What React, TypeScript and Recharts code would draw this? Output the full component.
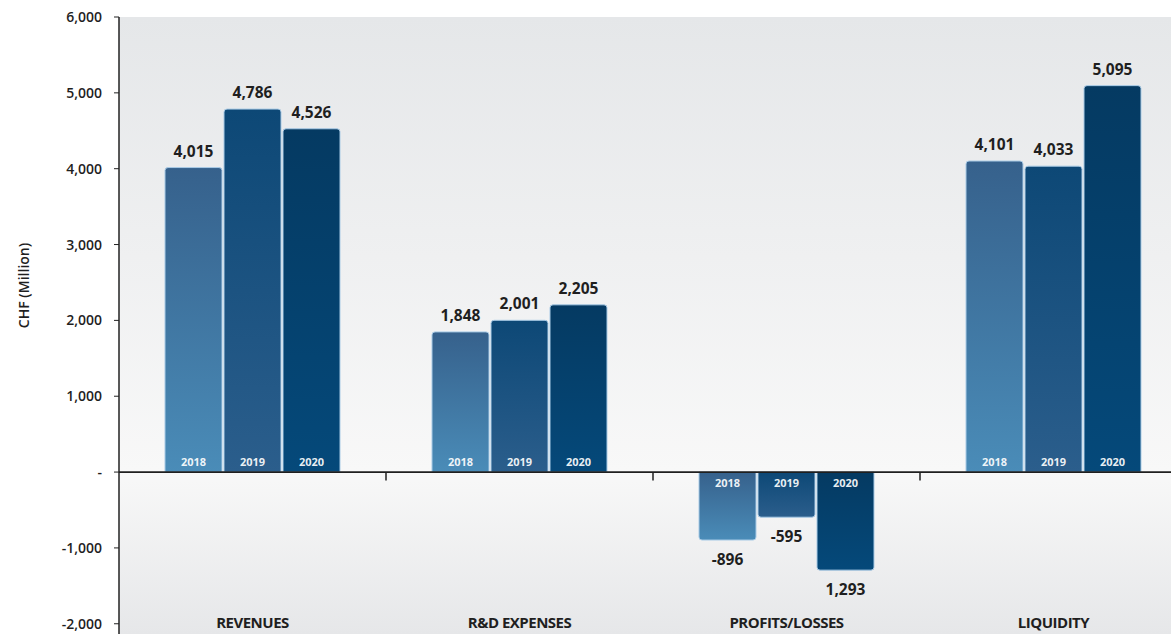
import React from "react";
import {
  BarChart,
  Bar,
  XAxis,
  YAxis,
  CartesianGrid,
  ReferenceLine,
  LabelList,
} from "recharts";

const categories = ["REVENUES", "R&D EXPENSES", "PROFITS/LOSSES", "LIQUIDITY"];
const values2018 = [4015, 1848, -896, 4101];
const values2019 = [4786, 2001, -595, 4033];
const values2020 = [4526, 2205, -1293, 5095];
const labels2018 = ["4,015", "1,848", "-896", "4,101"];
const labels2019 = ["4,786", "2,001", "-595", "4,033"];
const labels2020 = ["4,526", "2,205", "1,293", "5,095"];
const yTicks = [-2000, -1000, 0, 1000, 2000, 3000, 4000, 5000, 6000];

const FONT = "'Open Sans', sans-serif";
const INK = "#1f1f1f";

const data = categories.map((name, i) => ({
  name,
  y2018: values2018[i],
  y2019: values2019[i],
  y2020: values2020[i],
}));

const series = [
  { key: "y2018", year: "2018", values: values2018, labels: labels2018, top: "#36618c", bottom: "#4a8cb8" },
  { key: "y2019", year: "2019", values: values2019, labels: labels2019, top: "#0d4876", bottom: "#2b5e8c" },
  { key: "y2020", year: "2020", values: values2020, labels: labels2020, top: "#053a62", bottom: "#05497a" },
];

const formatTick = (v: number) => (v === 0 ? "-" : v.toLocaleString("en-US"));

function bounds(props: any) {
  const y = Number(props.y);
  const h = Number(props.height);
  return { top: Math.min(y, y + h), bottom: Math.max(y, y + h), cx: Number(props.x) + Number(props.width) / 2 };
}

const valueLabel = (values: number[], labels: string[]) => (props: any) => {
  const { top, bottom, cx } = bounds(props);
  const i = props.index;
  const neg = values[i] < 0;
  return (
    <text
      x={cx}
      y={neg ? bottom + 25 : top - 11}
      textAnchor="middle"
      fontFamily={FONT}
      fontWeight={700}
      fontSize={15.5}
      fill={INK}
    >
      {labels[i]}
    </text>
  );
};

const yearLabel = (values: number[], year: string) => (props: any) => {
  const { top, bottom, cx } = bounds(props);
  const neg = values[props.index] < 0;
  return (
    <text
      x={cx}
      y={neg ? top + 15 : bottom - 6}
      textAnchor="middle"
      fontFamily={FONT}
      fontWeight={700}
      fontSize={11}
      fill="#ffffff"
      fillOpacity={0.92}
    >
      {year}
    </text>
  );
};

const CategoryTick = (props: any) => {
  const { x, y, payload } = props;
  return (
    <text
      x={x}
      y={y - 6}
      textAnchor="middle"
      fontFamily={FONT}
      fontWeight={700}
      fontSize={15}
      letterSpacing={-0.5}
      fill={INK}
    >
      {payload.value}
    </text>
  );
};

const AxisTitle = (props: any) => {
  const vb = props.viewBox || {};
  const x = (vb.x ?? 0) + 29;
  const y = (vb.y ?? 0) + (vb.height ?? 0) / 2 - 40;
  return (
    <text
      x={x}
      y={y}
      transform={`rotate(-90, ${x}, ${y})`}
      textAnchor="middle"
      fontFamily={FONT}
      fontWeight={600}
      fontSize={14}
      fill={INK}
    >
      CHF (Million)
    </text>
  );
};

export default function App() {
  return (
    <div
      style={{
        position: "fixed",
        left: 0,
        top: 0,
        width: 1171,
        height: 635,
        overflow: "hidden",
        background: "#ffffff",
      }}
    >
      <BarChart
        width={1190}
        height={635}
        data={data}
        margin={{ top: 17, right: 3, left: 0, bottom: 0 }}
        barCategoryGap={46}
        barGap={2}
      >
        <defs>
          <linearGradient id="plotBg" x1="0" y1="0" x2="0" y2="1">
            <stop offset="0" stopColor="#e5e7e9" />
            <stop offset="0.736" stopColor="#f8f8f8" />
            <stop offset="1" stopColor="#e6e7e9" />
          </linearGradient>
          {series.map((s) => (
            <linearGradient key={s.key} id={`grad${s.year}`} x1="0" y1="0" x2="0" y2="1">
              <stop offset="0" stopColor={s.top} />
              <stop offset="1" stopColor={s.bottom} />
            </linearGradient>
          ))}
        </defs>
        <CartesianGrid horizontal={false} vertical={false} fill="url(#plotBg)" />
        <XAxis
          dataKey="name"
          height={1}
          axisLine={false}
          tickLine={false}
          tickSize={0}
          tickMargin={0}
          tick={<CategoryTick />}
          interval={0}
        />
        <YAxis
          width={119}
          domain={[-2135, 6000]}
          ticks={yTicks}
          allowDataOverflow
          tickFormatter={formatTick}
          axisLine={{ stroke: "#222222", strokeWidth: 1.5 }}
          tickLine={{ stroke: "#222222" }}
          tickSize={5}
          tickMargin={12}
          tick={{ fontFamily: FONT, fontWeight: 600, fontSize: 14, fill: INK }}
          label={<AxisTitle />}
        />
        {series.map((s) => (
          <Bar
            key={s.key}
            dataKey={s.key}
            fill={`url(#grad${s.year})`}
            stroke="#a9cbe6"
            strokeWidth={1}
            radius={[3, 3, 0, 0]}
            isAnimationActive={false}
          >
            <LabelList dataKey={s.key} content={valueLabel(s.values, s.labels)} />
            <LabelList dataKey={s.key} content={yearLabel(s.values, s.year)} />
          </Bar>
        ))}
        <ReferenceLine y={0} stroke="#1f1f1f" strokeWidth={1.8} />
        {categories.slice(1).map((c) => (
          <ReferenceLine
            key={c}
            position="start"
            segment={[
              { x: c, y: 0 },
              { x: c, y: -110 },
            ]}
            stroke="#1f1f1f"
            strokeWidth={1.5}
          />
        ))}
      </BarChart>
    </div>
  );
}
